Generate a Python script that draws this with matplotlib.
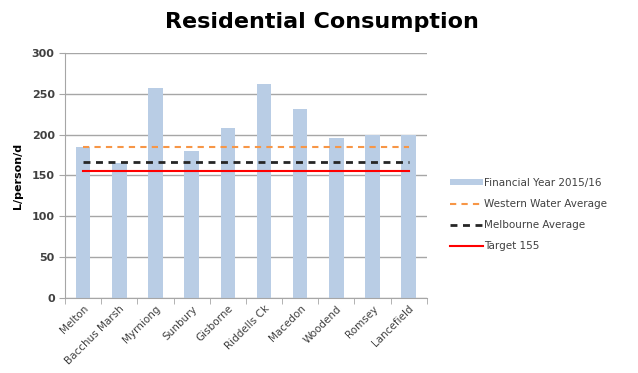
import numpy as np
import matplotlib.pyplot as plt

# consumo residenziale per località
towns = ['Melton', 'Bacchus Marsh', 'Myrniong', 'Sunbury', 'Gisborne',
         'Riddells Ck', 'Macedon', 'Woodend', 'Romsey', 'Lancefield']
fy_2015_16 = [185, 165, 257, 180, 208, 262, 231, 196, 199, 199]
western_water_avg = 185
melbourne_avg = 166
target = 155

testo = '#404040'
griglia = '#a6a6a6'

fig = plt.figure(figsize=(6.38, 3.73), dpi=100, facecolor='white')
ax = fig.add_axes([0.102, 0.201, 0.567, 0.657])

x = np.arange(len(towns))
barre = ax.bar(x, fy_2015_16, width=0.4, color='#b9cde5', label='Financial Year 2015/16', zorder=2)
l1, = ax.plot([x[0], x[-1]], [western_water_avg] * 2, color='#f79646', lw=1.5,
              dashes=(3, 2.5), label='Western Water Average', zorder=3)
l2, = ax.plot([x[0], x[-1]], [melbourne_avg] * 2, color='#262626', lw=2,
              dashes=(2.5, 2), label='Melbourne Average', zorder=3)
l3, = ax.plot([x[0], x[-1]], [target] * 2, color='#ff0000', lw=1.5,
              label='Target 155', zorder=3)

ax.set_xlim(-0.5, len(towns) - 0.5)
ax.set_ylim(0, 300)
ax.set_yticks(np.arange(0, 301, 50))
ax.yaxis.grid(True, color=griglia, lw=1, zorder=0)

# tacche tra le categorie come in Excel
ax.set_xticks(x)
ax.set_xticklabels(towns, rotation=45, ha='right', rotation_mode='anchor',
                   fontsize=7.5, color=testo)
ax.tick_params(axis='x', length=0, pad=4)
ax.set_xticks(np.arange(-0.5, len(towns)), minor=True)
ax.tick_params(axis='x', which='minor', length=4, color=griglia)
ax.tick_params(axis='y', length=4, color=griglia, labelsize=8, labelcolor=testo)
for t in ax.get_yticklabels():
    t.set_fontweight('bold')

for s in ['top', 'right']:
    ax.spines[s].set_visible(False)
for s in ['left', 'bottom']:
    ax.spines[s].set_color(griglia)

ax.set_ylabel('L/person/d', fontsize=8, fontweight='bold', color='black', labelpad=6)
fig.text(0.504, 0.94, 'Residential Consumption', fontsize=16, fontweight='bold',
         ha='center', va='center')

fig.legend(handles=[barre, l1, l2, l3], loc='center left',
           bbox_to_anchor=(0.69, 0.425), frameon=False,
           fontsize=7.5, labelcolor=testo, handlelength=3.2, handletextpad=0.1,
           labelspacing=1.05, handleheight=0.5)

fig.savefig('out.png', dpi=100)
